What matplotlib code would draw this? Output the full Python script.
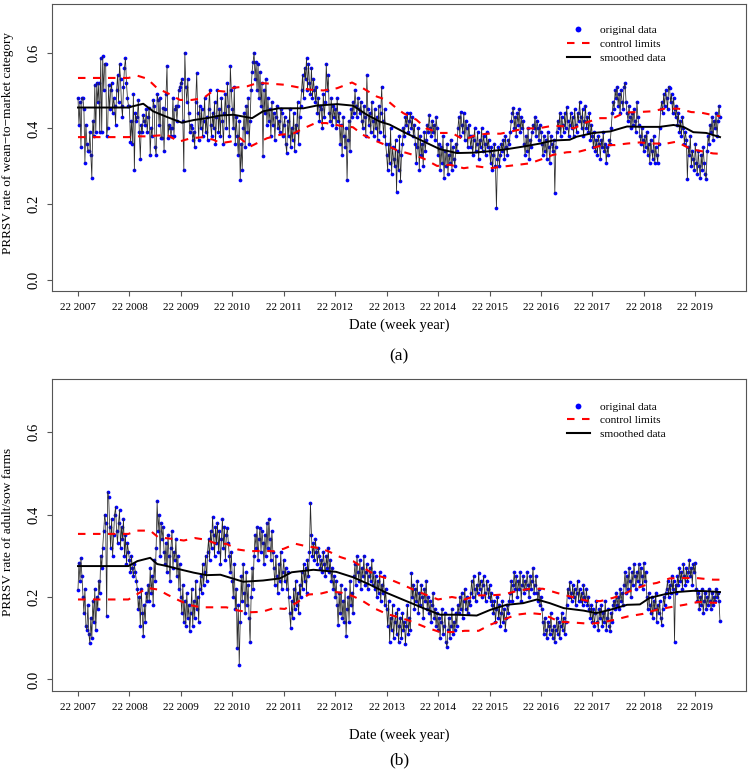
import numpy as np
import matplotlib
matplotlib.use("Agg")
import matplotlib.pyplot as plt
from matplotlib.lines import Line2D

plt.rcParams['font.family'] = ['Liberation Serif', 'DejaVu Serif']

# ---------------- data: weekly PRRSV rate, wean-to-market (panel a) ----------------
a07 = [0.48,0.41,0.47,0.35,0.48,0.48,0.45,0.31,0.41,0.36,0.34,0.34,0.39,0.33,0.27,0.42,0.38,0.515,0.39,0.52,0.47,0.52,0.39,0.585,0.39,0.59,0.50,0.57,0.57,0.38,0.40,0.515,0.45,0.50,0.52,0.44,0.48,0.46,0.41,0.50,0.54,0.47,0.57,0.53,0.46,0.43,0.51,0.56,0.585,0.52,0.48,0.46]
a08 = [0.46,0.365,0.42,0.36,0.49,0.29,0.44,0.42,0.43,0.475,0.39,0.32,0.41,0.39,0.435,0.42,0.41,0.45,0.39,0.43,0.455,0.33,0.40,0.38,0.475,0.46,0.35,0.33,0.49,0.475,0.41,0.48,0.375,0.375,0.455,0.34,0.45,0.49,0.565,0.375,0.41,0.40,0.38,0.40,0.48,0.38,0.45,0.46,0.42,0.46,0.50,0.51]
a09 = [0.52,0.53,0.42,0.29,0.60,0.51,0.47,0.53,0.44,0.39,0.41,0.40,0.37,0.39,0.35,0.47,0.546,0.44,0.37,0.46,0.40,0.45,0.38,0.42,0.48,0.39,0.43,0.37,0.45,0.50,0.41,0.38,0.44,0.40,0.47,0.36,0.43,0.50,0.39,0.45,0.38,0.48,0.42,0.36,0.44,0.49,0.40,0.52,0.46,0.38,0.564,0.50]
a10 = [0.45,0.40,0.51,0.36,0.43,0.38,0.33,0.42,0.264,0.36,0.29,0.40,0.44,0.35,0.46,0.39,0.48,0.36,0.42,0.50,0.55,0.575,0.60,0.53,0.575,0.50,0.57,0.48,0.55,0.46,0.52,0.326,0.50,0.44,0.53,0.41,0.48,0.42,0.45,0.38,0.47,0.41,0.44,0.37,0.43,0.46,0.40,0.42,0.39,0.45,0.44,0.38]
a11 = [0.41,0.43,0.36,0.335,0.42,0.38,0.45,0.35,0.40,0.37,0.44,0.34,0.41,0.39,0.47,0.36,0.43,0.46,0.50,0.54,0.48,0.56,0.53,0.585,0.50,0.57,0.52,0.49,0.56,0.48,0.53,0.50,0.47,0.51,0.44,0.48,0.42,0.46,0.45,0.40,0.49,0.43,0.47,0.57,0.50,0.54,0.44,0.42,0.48,0.41,0.46,0.43]
a12 = [0.45,0.40,0.48,0.42,0.44,0.36,0.41,0.33,0.43,0.38,0.35,0.40,0.264,0.37,0.42,0.34,0.45,0.43,0.47,0.44,0.50,0.46,0.43,0.48,0.45,0.44,0.47,0.42,0.40,0.46,0.43,0.38,0.54,0.45,0.41,0.44,0.39,0.47,0.42,0.38,0.45,0.40,0.43,0.37,0.46,0.39,0.44,0.51,0.42,0.38,0.45,0.36]
a13 = [0.33,0.29,0.36,0.31,0.40,0.28,0.35,0.32,0.30,0.37,0.233,0.34,0.29,0.38,0.26,0.33,0.36,0.40,0.38,0.43,0.41,0.44,0.39,0.42,0.44,0.40,0.43,0.38,0.41,0.36,0.31,0.35,0.40,0.29,0.38,0.33,0.36,0.30,0.39,0.34,0.37,0.41,0.39,0.436,0.40,0.38,0.42,0.39,0.41,0.37,0.43,0.40]
a14 = [0.33,0.36,0.29,0.35,0.31,0.38,0.27,0.34,0.30,0.36,0.28,0.33,0.31,0.37,0.29,0.35,0.32,0.30,0.36,0.34,0.40,0.43,0.38,0.442,0.41,0.39,0.44,0.37,0.42,0.40,0.35,0.41,0.38,0.35,0.38,0.33,0.37,0.40,0.34,0.36,0.39,0.32,0.37,0.35,0.40,0.34,0.38,0.36,0.33,0.39,0.35,0.37]
a15 = [0.34,0.31,0.35,0.29,0.33,0.36,0.30,0.19,0.32,0.35,0.30,0.33,0.36,0.34,0.37,0.32,0.38,0.35,0.33,0.37,0.36,0.39,0.42,0.44,0.454,0.40,0.43,0.38,0.44,0.41,0.45,0.39,0.43,0.40,0.42,0.36,0.33,0.38,0.34,0.40,0.32,0.37,0.35,0.39,0.41,0.40,0.43,0.38,0.42,0.40,0.37,0.41]
a16 = [0.39,0.36,0.33,0.38,0.34,0.37,0.32,0.39,0.35,0.31,0.38,0.36,0.34,0.37,0.23,0.35,0.39,0.42,0.40,0.44,0.38,0.43,0.41,0.39,0.44,0.40,0.456,0.42,0.38,0.41,0.44,0.40,0.43,0.38,0.45,0.41,0.39,0.44,0.42,0.47,0.43,0.40,0.45,0.38,0.42,0.46,0.40,0.43,0.39,0.44,0.37,0.41]
a17 = [0.38,0.35,0.39,0.34,0.37,0.33,0.38,0.36,0.32,0.37,0.35,0.39,0.34,0.36,0.31,0.35,0.33,0.37,0.36,0.40,0.44,0.47,0.45,0.50,0.48,0.51,0.46,0.49,0.44,0.50,0.47,0.45,0.51,0.52,0.47,0.44,0.42,0.46,0.43,0.40,0.44,0.41,0.45,0.42,0.39,0.47,0.43,0.41,0.38,0.36,0.40,0.37]
a18 = [0.34,0.38,0.35,0.39,0.33,0.36,0.31,0.37,0.34,0.32,0.38,0.31,0.35,0.33,0.31,0.36,0.40,0.45,0.47,0.44,0.49,0.46,0.50,0.48,0.45,0.51,0.506,0.47,0.49,0.44,0.48,0.45,0.43,0.46,0.41,0.44,0.39,0.42,0.38,0.43,0.40,0.36,0.39,0.37,0.266,0.35,0.33,0.38,0.30,0.34,0.32,0.29]
a19 = [0.36,0.31,0.28,0.34,0.30,0.27,0.33,0.29,0.35,0.31,0.28,0.266,0.34,0.38,0.36,0.41,0.39,0.43,0.37,0.42,0.40,0.44,0.38,0.42,0.46,0.43]

# smoothed series and control limits (panel a), given at week-index knots
sm_a_wk = [0,51,55,66,76,90,105,117,130,144,157,176,187,203,228,241,262,278,292,305,315,332,349,366,383,400,417,433,450,467,480,497,504,521,538,555,571,588,602,612,622,635,649]
sm_a = [0.455,0.455,0.458,0.465,0.445,0.430,0.415,0.422,0.427,0.434,0.436,0.427,0.445,0.453,0.453,0.460,0.464,0.460,0.436,0.418,0.410,0.387,0.366,0.345,0.335,0.336,0.340,0.345,0.352,0.360,0.368,0.370,0.378,0.388,0.392,0.405,0.404,0.404,0.409,0.404,0.390,0.388,0.377]
ucl_a_wk = [0,51,60,70,80,92,103,115,127,137,149,157,171,182,194,209,221,235,248,262,277,288,302,312,322,329,342,352,366,378,390,403,415,427,438,452,465,480,494,501,514,528,541,553,566,580,593,607,620,629,640,649]
ucl_a = [0.533,0.533,0.539,0.531,0.506,0.491,0.475,0.475,0.480,0.500,0.497,0.507,0.511,0.520,0.518,0.515,0.509,0.502,0.500,0.506,0.521,0.506,0.484,0.475,0.453,0.440,0.423,0.400,0.388,0.388,0.370,0.383,0.386,0.386,0.392,0.400,0.400,0.407,0.405,0.400,0.416,0.427,0.427,0.442,0.443,0.445,0.452,0.452,0.443,0.442,0.436,0.432]
lcl_a_wk = [0,51,60,70,90,102,114,127,137,144,154,164,174,191,204,218,228,240,251,265,278,288,302,312,322,339,349,363,376,390,403,417,432,445,457,469,480,494,507,517,531,543,555,568,581,595,605,620,632,642,649]
lcl_a = [0.377,0.377,0.379,0.379,0.383,0.365,0.374,0.377,0.370,0.361,0.365,0.374,0.352,0.374,0.383,0.387,0.400,0.414,0.414,0.407,0.403,0.383,0.366,0.355,0.343,0.330,0.321,0.301,0.304,0.295,0.300,0.295,0.300,0.304,0.308,0.319,0.330,0.337,0.339,0.346,0.356,0.356,0.360,0.363,0.360,0.360,0.365,0.345,0.339,0.334,0.333]

# ---------------- data: weekly PRRSV rate, adult/sow farms (panel b) ----------------
b07 = [0.218,0.283,0.24,0.295,0.25,0.20,0.16,0.22,0.13,0.12,0.18,0.11,0.088,0.15,0.10,0.19,0.14,0.22,0.12,0.20,0.17,0.24,0.21,0.30,0.27,0.32,0.36,0.40,0.38,0.153,0.455,0.443,0.37,0.32,0.39,0.30,0.35,0.40,0.418,0.36,0.33,0.38,0.41,0.32,0.37,0.34,0.39,0.30,0.35,0.28,0.33,0.31]
b08 = [0.29,0.26,0.30,0.27,0.25,0.28,0.26,0.24,0.22,0.17,0.20,0.13,0.22,0.16,0.105,0.18,0.14,0.21,0.19,0.23,0.19,0.27,0.21,0.25,0.18,0.29,0.24,0.32,0.433,0.36,0.40,0.30,0.38,0.34,0.37,0.31,0.28,0.33,0.26,0.35,0.30,0.24,0.32,0.36,0.27,0.31,0.29,0.34,0.25,0.30,0.22,0.28]
b09 = [0.20,0.16,0.23,0.14,0.19,0.13,0.21,0.15,0.18,0.117,0.16,0.22,0.13,0.19,0.15,0.24,0.17,0.20,0.14,0.22,0.25,0.21,0.28,0.23,0.26,0.30,0.24,0.31,0.34,0.29,0.36,0.32,0.394,0.35,0.30,0.37,0.33,0.38,0.31,0.36,0.28,0.34,0.39,0.32,0.37,0.29,0.35,0.368,0.33,0.30,0.26,0.31]
b10 = [0.24,0.20,0.28,0.17,0.22,0.076,0.18,0.036,0.14,0.25,0.19,0.28,0.21,0.16,0.26,0.18,0.23,0.15,0.09,0.20,0.27,0.22,0.30,0.35,0.32,0.37,0.29,0.34,0.368,0.31,0.36,0.33,0.28,0.35,0.30,0.38,0.32,0.388,0.34,0.29,0.36,0.31,0.27,0.23,0.30,0.25,0.21,0.28,0.24,0.31,0.22,0.26]
b11 = [0.29,0.24,0.27,0.22,0.26,0.20,0.16,0.126,0.19,0.15,0.22,0.17,0.24,0.18,0.21,0.16,0.23,0.20,0.26,0.22,0.28,0.24,0.27,0.21,0.29,0.25,0.31,0.428,0.35,0.30,0.33,0.29,0.34,0.31,0.28,0.32,0.30,0.27,0.29,0.26,0.31,0.28,0.25,0.30,0.27,0.32,0.26,0.29,0.24,0.27,0.22,0.25]
b12 = [0.20,0.24,0.18,0.133,0.21,0.16,0.23,0.15,0.19,0.14,0.22,0.105,0.17,0.20,0.14,0.24,0.18,0.21,0.16,0.25,0.28,0.23,0.299,0.26,0.24,0.29,0.22,0.27,0.25,0.30,0.23,0.26,0.28,0.22,0.25,0.27,0.24,0.29,0.23,0.26,0.22,0.25,0.20,0.24,0.21,0.26,0.19,0.23,0.21,0.25,0.18,0.22]
b13 = [0.17,0.13,0.19,0.092,0.15,0.12,0.18,0.10,0.14,0.16,0.11,0.17,0.09,0.13,0.15,0.10,0.16,0.12,0.14,0.085,0.13,0.18,0.11,0.15,0.12,0.258,0.20,0.23,0.17,0.22,0.19,0.24,0.16,0.21,0.18,0.23,0.20,0.15,0.22,0.19,0.24,0.17,0.20,0.16,0.19,0.14,0.18,0.21,0.15,0.17,0.13,0.16]
b14 = [0.12,0.15,0.10,0.14,0.17,0.11,0.13,0.16,0.09,0.078,0.12,0.15,0.10,0.13,0.17,0.11,0.14,0.12,0.16,0.13,0.18,0.16,0.20,0.17,0.21,0.15,0.19,0.22,0.17,0.20,0.16,0.19,0.18,0.21,0.24,0.20,0.25,0.22,0.19,0.23,0.21,0.258,0.22,0.24,0.20,0.23,0.25,0.21,0.19,0.24,0.22,0.20]
b15 = [0.23,0.19,0.21,0.18,0.16,0.19,0.14,0.17,0.20,0.15,0.18,0.13,0.16,0.19,0.14,0.17,0.12,0.15,0.18,0.16,0.19,0.21,0.24,0.19,0.23,0.26,0.22,0.25,0.20,0.24,0.22,0.26,0.19,0.23,0.25,0.21,0.24,0.22,0.26,0.23,0.20,0.25,0.22,0.24,0.27,0.21,0.23,0.25,0.21,0.19,0.22,0.18]
b16 = [0.20,0.17,0.14,0.11,0.15,0.12,0.10,0.14,0.13,0.11,0.16,0.12,0.10,0.13,0.09,0.12,0.15,0.11,0.14,0.10,0.13,0.16,0.12,0.15,0.11,0.14,0.18,0.22,0.20,0.236,0.21,0.19,0.23,0.20,0.22,0.18,0.21,0.24,0.19,0.22,0.19,0.21,0.18,0.23,0.20,0.19,0.22,0.18,0.20,0.17,0.15,0.18]
b17 = [0.14,0.17,0.13,0.16,0.19,0.14,0.12,0.17,0.15,0.18,0.13,0.16,0.14,0.19,0.12,0.15,0.17,0.13,0.117,0.16,0.14,0.18,0.19,0.17,0.21,0.18,0.20,0.17,0.22,0.19,0.21,0.18,0.23,0.26,0.21,0.25,0.22,0.27,0.24,0.20,0.26,0.23,0.28,0.25,0.22,0.26,0.24,0.28,0.23,0.27,0.25,0.22]
b18 = [0.283,0.24,0.26,0.20,0.17,0.21,0.18,0.16,0.20,0.15,0.19,0.17,0.21,0.14,0.18,0.16,0.19,0.15,0.133,0.17,0.20,0.18,0.21,0.22,0.24,0.20,0.23,0.21,0.25,0.22,0.24,0.092,0.23,0.21,0.25,0.23,0.27,0.24,0.26,0.22,0.28,0.25,0.23,0.27,0.24,0.26,0.29,0.25,0.27,0.23,0.28,0.26]
b19 = [0.283,0.22,0.19,0.21,0.17,0.20,0.18,0.22,0.16,0.19,0.21,0.17,0.20,0.18,0.22,0.19,0.17,0.21,0.18,0.20,0.19,0.22,0.20,0.21,0.19,0.141]

sm_b_wk = [0,51,60,73,80,90,103,117,130,144,167,187,204,216,238,261,278,295,312,332,349,366,383,403,417,433,450,464,477,491,511,524,538,555,568,578,592,605,622,635,649]
sm_b = [0.275,0.275,0.287,0.295,0.280,0.275,0.267,0.259,0.253,0.254,0.237,0.240,0.245,0.260,0.266,0.261,0.248,0.230,0.210,0.190,0.173,0.157,0.157,0.155,0.169,0.181,0.185,0.194,0.185,0.173,0.167,0.161,0.169,0.181,0.182,0.198,0.206,0.212,0.215,0.214,0.212]
ucl_b_wk = [0,51,60,73,81,95,107,118,129,140,150,162,174,186,198,208,220,231,243,253,265,278,288,300,314,326,339,351,364,378,391,403,417,430,443,457,470,484,501,514,528,541,551,561,575,585,598,612,625,642,649]
ucl_b = [0.353,0.353,0.361,0.361,0.345,0.341,0.337,0.343,0.339,0.329,0.329,0.315,0.311,0.312,0.311,0.317,0.329,0.323,0.319,0.311,0.297,0.287,0.272,0.254,0.244,0.232,0.218,0.206,0.194,0.200,0.194,0.204,0.204,0.206,0.214,0.220,0.220,0.210,0.199,0.191,0.190,0.198,0.206,0.218,0.230,0.234,0.245,0.246,0.246,0.242,0.242]
lcl_b_wk = [0,51,60,70,81,90,100,112,124,137,150,162,174,186,198,209,221,233,245,255,267,278,288,300,312,327,339,352,366,380,391,405,417,430,443,457,470,487,501,518,529,543,556,571,585,598,613,627,642,649]
lcl_b = [0.194,0.194,0.207,0.222,0.218,0.206,0.194,0.181,0.175,0.175,0.175,0.167,0.163,0.164,0.173,0.171,0.186,0.206,0.208,0.214,0.210,0.202,0.190,0.172,0.159,0.149,0.139,0.126,0.115,0.115,0.118,0.118,0.133,0.145,0.157,0.161,0.158,0.140,0.138,0.135,0.138,0.145,0.153,0.159,0.169,0.175,0.181,0.188,0.186,0.186]

years = list(range(2007, 2020))
tick_labels = [f"22 {y}" for y in years]
y_ticks = [0.0, 0.2, 0.4, 0.6]

wean = np.concatenate([a07,a08,a09,a10,a11,a12,a13,a14,a15,a16,a17,a18,a19])
sow = np.concatenate([b07,b08,b09,b10,b11,b12,b13,b14,b15,b16,b17,b18,b19])

# ---------------- figure ----------------
fig = plt.figure(figsize=(7.5, 7.75), dpi=100)
W, H = 750.0, 775.0
ax_a = fig.add_axes([52.3/W, 1-290.7/H, (745.7-52.3)/W, (290.7-4)/H])
ax_b = fig.add_axes([52.3/W, 1-691/H, (745.7-52.3)/W, (691-379.3)/H])

spine_col = '#555555'

def draw(ax, vals, smw, sm, uw, u, lw_, l, legend_y):
    x = np.arange(len(vals))
    ax.plot(x, vals, 'o', color='#0000FF', ms=2.7, mec='#0000FF', mew=0, zorder=2)
    ax.plot(x, vals, '-', color='#2a2a2a', lw=0.55, zorder=3)
    ax.plot(uw, u, color='#FF0000', lw=1.5, dashes=(3.6, 3.6), zorder=4)
    ax.plot(lw_, l, color='#FF0000', lw=1.5, dashes=(3.6, 3.6), zorder=4)
    ax.plot(smw, sm, color='black', lw=1.4, zorder=5)
    n = len(vals) - 1
    ax.set_xlim(-0.04*n, n*1.04)
    ax.set_ylim(-0.028, 0.728)
    ax.set_xticks(np.arange(len(years))*52)
    ax.set_xticklabels(tick_labels, fontsize=8)
    ax.set_yticks(y_ticks)
    ax.set_yticklabels([f"{v:.1f}" for v in y_ticks], fontsize=10.5, rotation=90, va='center')
    ax.tick_params(direction='out', length=3.6, width=0.8, color=spine_col)
    ax.tick_params(axis='x', pad=5)
    ax.tick_params(axis='y', pad=5)
    for s in ax.spines.values():
        s.set_color(spine_col)
        s.set_linewidth(0.8)
    handles = [Line2D([], [], marker='o', ls='none', color='#0000FF', ms=4.2, mew=0),
               Line2D([], [], color='#FF0000', lw=1.5, dashes=(3.6, 3.6)),
               Line2D([], [], color='black', lw=1.5)]
    ax.legend(handles, ['original data', 'control limits', 'smoothed data'],
              loc='upper left', bbox_to_anchor=(0.742, legend_y), frameon=False,
              fontsize=8.2, handlelength=2.0, handletextpad=0.9, labelspacing=0.34,
              borderpad=0, borderaxespad=0)

draw(ax_a, wean, sm_a_wk, sm_a, ucl_a_wk, ucl_a, lcl_a_wk, lcl_a, 0.926)
draw(ax_b, sow, sm_b_wk, sm_b, ucl_b_wk, ucl_b, lcl_b_wk, lcl_b, 0.9285)

xc = (52.3 + 745.7) / 2 / W
fig.text(8.5/W, 1-143/H, "PRRSV rate of wean\u2212to\u2212market category", rotation=90,
         ha='center', va='center', fontsize=9.5)
fig.text(8.5/W, 1-532/H, "PRRSV rate of adult/sow farms", rotation=90,
         ha='center', va='center', fontsize=9.5)
fig.text(xc, 1-325/H, "Date (week year)", ha='center', va='center', fontsize=10.5)
fig.text(xc, 1-735/H, "Date (week year)", ha='center', va='center', fontsize=10.5)
fig.text(xc, 1-356/H, "(a)", ha='center', va='center', fontsize=12.5)
fig.text(xc, 1-760/H, "(b)", ha='center', va='center', fontsize=12.5)

fig.savefig("out.png", dpi=100)
